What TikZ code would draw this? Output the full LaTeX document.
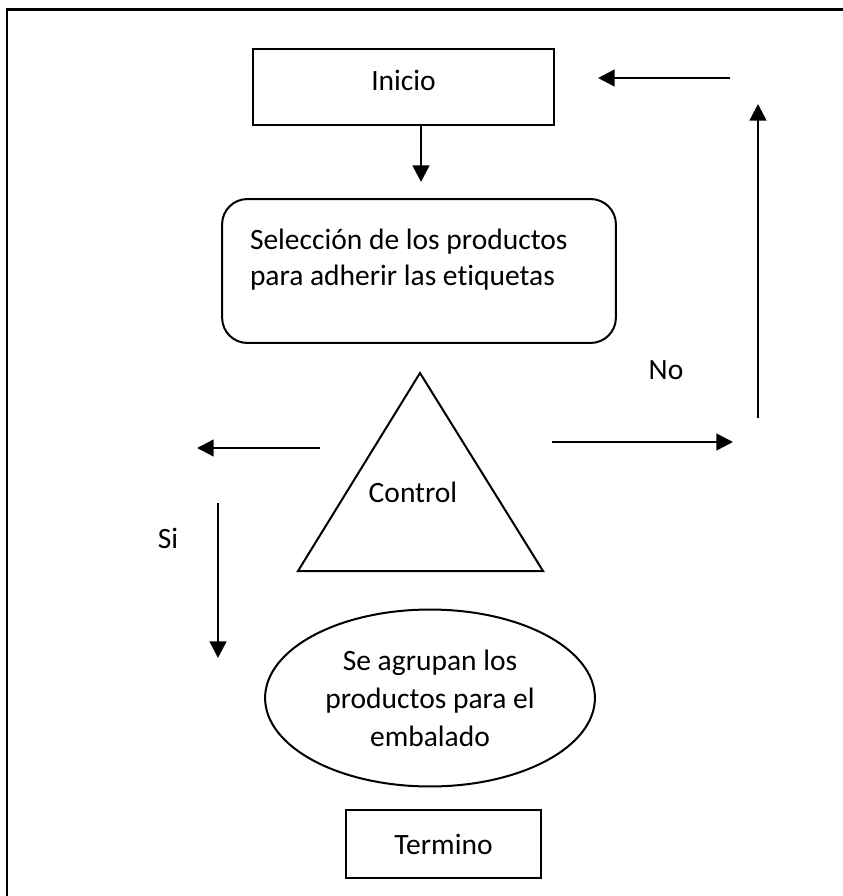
\documentclass[tikz,border=0pt]{standalone}
\usepackage{fontspec}
\setmainfont{Carlito}[Ligatures={NoCommon,NoRequired,NoContextual}]
\usepackage{tikz}
\usetikzlibrary{positioning,arrows.meta,shapes.geometric}

\begin{document}
\begin{tikzpicture}[
    x=0.0131cm, y=-0.0131cm,
    font={\fontsize{11}{13.4}\selectfont},
    line width=0.75pt,
    txt/.style={align=center,inner sep=0pt},
    box/.style={draw,rectangle,inner sep=0pt},
    rbox/.style={box,rounded corners=0.33cm},
    oval/.style={draw,ellipse,inner sep=0pt,align=center,
                 font={\fontsize{11}{14.2}\selectfont}},
    arr/.style={line width=0.9pt,-{Triangle[length=6.2pt,width=6.2pt]}},
]
    \useasboundingbox (0,0) rectangle (842,896);
    \draw[line width=1.1pt] (7,910) -- (7,9.5) -- (860,9.5);

    \node[box,minimum width=3.943cm,minimum height=0.996cm,text depth=5pt]
                                        (inicio)  at (403.5,87)  {Inicio};
    \node[rbox,minimum width=5.161cm,minimum height=1.886cm]
                                        (selec)   at (419,271)   {};
    \node[txt,align=left,anchor=west]   (selectxt) at (249,260)
        {Selección de los productos\\para adherir las etiquetas};

    \coordinate (tapex)  at (420,373);
    \coordinate (tleft)  at (298,571);
    \coordinate (tright) at (543,571);
    \draw (tapex) -- (tright) -- (tleft) -- cycle;
    \node[txt]                          (control) at (413,492)   {Control};

    \node[oval,minimum width=4.323cm,minimum height=2.319cm]
                                        (agrupa)  at (430,698)
        {Se agrupan los\\productos para el\\embalado};
    \node[box,minimum width=2.555cm,minimum height=0.891cm]
                                        (termino) at (443.5,844) {Termino};

    \node[txt]                          (no)      at (666,370)   {No};
    \node[txt]                          (si)      at (168,538)   {Si};

    \coordinate (ini-e)  at (421,182);
    \coordinate (izq-s)  at (320,448);
    \coordinate (izq-e)  at (197,448);
    \coordinate (si-s)   at (218,503);
    \coordinate (si-e)   at (218,658);
    \coordinate (der-s)  at (552,442);
    \coordinate (der-e)  at (733,442);
    \coordinate (sub-s)  at (758,418);
    \coordinate (sub-e)  at (758,104);
    \coordinate (ret-s)  at (730,78);
    \coordinate (ret-e)  at (598,78);

    \draw[arr] (inicio.south -| ini-e) -- (ini-e);
    \draw[arr] (izq-s) -- (izq-e);
    \draw[arr] (si-s)  -- (si-e);
    \draw[arr] (der-s) -- (der-e);
    \draw[arr] (sub-s) -- (sub-e);
    \draw[arr] (ret-s) -- (ret-e);

\end{tikzpicture}
\end{document}
